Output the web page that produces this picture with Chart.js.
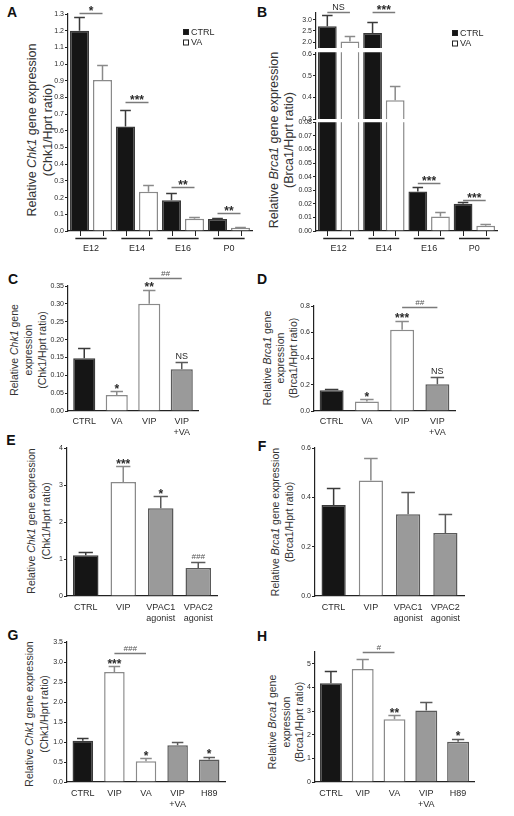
<!DOCTYPE html>
<html>
<head>
<meta charset="utf-8">
<script src="https://cdn.jsdelivr.net/npm/chart.js@4.4.1/dist/chart.umd.min.js"></script>
<style>
  body { margin: 0; background: #fff; }
  #fig { position: relative; width: 514px; height: 816px; overflow: hidden; background: #fff;
         font-family: "Liberation Sans", Arial, Helvetica, sans-serif; color: #222; }
  #fig canvas { position: absolute; }
  .pl { position: absolute; font-weight: bold; font-size: 14px; transform: translate(-50%, -50%); color: #111; }
  .yt { position: absolute; white-space: nowrap; text-align: center; color: #333;
        transform: translate(-50%, -50%) rotate(-90deg); }
</style>
</head>
<body>
<div id="fig">
  <div class="pl" style="left:12px;top:12px">A</div>
  <div class="pl" style="left:262px;top:12px">B</div>
  <div class="pl" style="left:13px;top:279px">C</div>
  <div class="pl" style="left:262px;top:279px">D</div>
  <div class="pl" style="left:11px;top:440px">E</div>
  <div class="pl" style="left:262px;top:446px">F</div>
  <div class="pl" style="left:13px;top:635px">G</div>
  <div class="pl" style="left:262px;top:636px">H</div>

  <div class="yt" style="left:40px;top:130px;font-size:12.5px;line-height:16px">Relative <i>Chk1</i> gene expression<br>(Chk1/Hprt ratio)</div>
  <div class="yt" style="left:282px;top:140px;font-size:12.5px;line-height:15px">Relative <i>Brca1</i> gene expression<br>(Brca1/Hprt ratio)</div>
  <div class="yt" style="left:28px;top:350px;font-size:10.5px;line-height:14px">Relative <i>Chk1</i> gene<br>expression<br>(Chk1/Hprt ratio)</div>
  <div class="yt" style="left:280px;top:358px;font-size:10.5px;line-height:13px">Relative <i>Brca1</i> gene<br>expression<br>(Brca1/Hprt ratio)</div>
  <div class="yt" style="left:39px;top:521px;font-size:10.5px;line-height:15px">Relative <i>Chk1</i> gene expression<br>(Chk1/Hprt ratio)</div>
  <div class="yt" style="left:282px;top:522px;font-size:10.5px;line-height:14px">Relative <i>Brca1</i> gene expression<br>(Brca1/Hprt ratio)</div>
  <div class="yt" style="left:37px;top:714px;font-size:10.5px;line-height:15px">Relative <i>Chk1</i> gene expression<br>(Chk1/Hprt ratio)</div>
  <div class="yt" style="left:286px;top:722px;font-size:10.5px;line-height:13.5px">Relative <i>Brca1</i> gene<br>expression<br>(Brca1/Hprt ratio)</div>
</div>

<script>
// ===== DATA =====
// A / B: developmental stages, CTRL vs VA
const stageLabels = ['E12', 'E14', 'E16', 'P0'];
const chk1StageCtrl = [1.2, 0.626, 0.184, 0.072];
const chk1StageCtrlErr = [0.08, 0.10, 0.045, 0.005];
const chk1StageVa = [0.904, 0.235, 0.074, 0.019];
const chk1StageVaErr = [0.09, 0.042, 0.007, 0.002];
const yTicksA = [0, 0.1, 0.2, 0.3, 0.4, 0.5, 0.6, 0.7, 0.8, 0.9, 1.0, 1.1, 1.2, 1.3];
const rangeA = [0, 1.3];

const brca1StageCtrl = [2.71, 2.41, 0.029, 0.020];
const brca1StageCtrlErr = [0.51, 0.47, 0.0032, 0.0012];
const brca1StageVa = [2.04, 0.387, 0.0107, 0.0039];
const brca1StageVaErr = [0.22, 0.065, 0.003, 0.0015];
const yTicksBTop = [2.0, 2.5, 3.0];
const rangeBTop = [1.75, 3.29];
const yTicksBMid = [0.3, 0.4, 0.5, 0.6];
const rangeBMid = [0.3, 0.61];
const yTicksBLow = [0, 0.01, 0.02, 0.03, 0.04, 0.05, 0.06, 0.07, 0.08];
const rangeBLow = [0, 0.08];

// C / D: VIP and VA treatments
const vipVaLabels = ['CTRL', 'VA', 'VIP', ['VIP', '+VA']];
const chk1VipVa = [0.148, 0.045, 0.30, 0.117];
const chk1VipVaErr = [0.028, 0.011, 0.04, 0.02];
const yTicksC = [0, 0.05, 0.10, 0.15, 0.20, 0.25, 0.30, 0.35];
const rangeC = [0, 0.35];
const brca1VipVa = [0.158, 0.072, 0.62, 0.203];
const brca1VipVaErr = [0.013, 0.016, 0.066, 0.053];
const yTicksD = [0, 0.2, 0.4, 0.6, 0.8];
const rangeD = [0, 0.8];

// E / F: VPAC agonists
const vpacLabels = ['CTRL', 'VIP', ['VPAC1', 'agonist'], ['VPAC2', 'agonist']];
const chk1Vpac = [1.1, 3.08, 2.37, 0.76];
const chk1VpacErr = [0.08, 0.43, 0.33, 0.15];
const yTicksE = [0, 1, 2, 3, 4];
const rangeE = [0, 4];
const brca1Vpac = [0.369, 0.468, 0.331, 0.255];
const brca1VpacErr = [0.069, 0.09, 0.089, 0.078];
const yTicksF = [0, 0.2, 0.4, 0.6];
const rangeF = [0, 0.6];

// G / H: H89
const h89Labels = ['CTRL', 'VIP', 'VA', ['VIP', '+VA'], 'H89'];
const chk1H89 = [1.03, 2.75, 0.52, 0.92, 0.56];
const chk1H89Err = [0.06, 0.15, 0.08, 0.08, 0.07];
const yTicksG = [0, 0.5, 1.0, 1.5, 2.0, 2.5, 3.0, 3.5];
const rangeG = [0, 3.5];
const brca1H89 = [4.18, 4.78, 2.65, 3.02, 1.7];
const brca1H89Err = [0.5, 0.42, 0.17, 0.35, 0.13];
const yTicksH = [0, 1, 2, 3, 4, 5];
const rangeH = [0, 5.5];

// significance marks: a/b = [dataset, bar], v = bracket height
const sigA = [
  { a: [0, 0], b: [1, 0], v: 1.308, t: '*' },
  { a: [0, 1], b: [1, 1], v: 0.77, t: '***' },
  { a: [0, 2], b: [1, 2], v: 0.261, t: '**' },
  { a: [0, 3], b: [1, 3], v: 0.108, t: '**' },
];
const sigBTop = [
  { a: [0, 0], b: [1, 0], v: 3.34, t: 'NS' },
  { a: [0, 1], b: [1, 1], v: 3.34, t: '***' },
];
const sigBLow = [
  { a: [0, 2], b: [1, 2], v: 0.0356, t: '***' },
  { a: [0, 3], b: [1, 3], v: 0.0229, t: '***' },
];
const sigC = [
  { a: [0, 1], t: '*' }, { a: [0, 2], t: '**' },
  { a: [0, 2], b: [0, 3], v: 0.372, t: '##' }, { a: [0, 3], t: 'NS' },
];
const sigD = [
  { a: [0, 1], t: '*' }, { a: [0, 2], t: '***' },
  { a: [0, 2], b: [0, 3], v: 0.79, t: '##' }, { a: [0, 3], t: 'NS' },
];
const sigE = [{ a: [0, 1], t: '***' }, { a: [0, 2], t: '*' }, { a: [0, 3], t: '###' }];
const sigG = [
  { a: [0, 1], t: '***' }, { a: [0, 1], b: [0, 2], v: 3.22, t: '###' },
  { a: [0, 2], t: '*' }, { a: [0, 4], t: '*' },
];
const sigH = [
  { a: [0, 1], b: [0, 2], v: 5.5, t: '#' }, { a: [0, 2], t: '**' }, { a: [0, 4], t: '*' },
];

// ===== STYLE =====
const FONT = '"Liberation Sans", Arial, Helvetica, sans-serif';
const COLORS = {
  ctrl: '#151515', ctrlEdge: '#3a3a3a',
  white: '#ffffff', whiteEdge: '#8a8a8a',
  grey: '#9a9a9a', greyEdge: '#5a5a5a',
  axis: '#222222', text: '#2a2a2a', sigLine: '#7a7a7a', hash: '#555555',
};

function styleFor(label) {
  const key = [].concat(label).join('');
  if (key === 'CTRL') return [COLORS.ctrl, COLORS.ctrlEdge];
  if (key === 'VA' || key === 'VIP') return [COLORS.white, COLORS.whiteEdge];
  return [COLORS.grey, COLORS.greyEdge];
}

// ===== PLUGINS =====
const errorBars = {
  id: 'errorBars',
  afterDatasetsDraw(chart) {
    const { ctx } = chart;
    const y = chart.scales.y;
    chart.data.datasets.forEach((ds, di) => {
      if (!ds.errors) return;
      chart.getDatasetMeta(di).data.forEach((bar, i) => {
        const v = ds.data[i];
        if (v < y.min || v > y.max) return;
        const y0 = y.getPixelForValue(v);
        const y1 = Math.round(y.getPixelForValue(v + ds.errors[i])) + 0.5;
        const half = bar.width * 0.28;
        const col = Array.isArray(ds.borderColor) ? ds.borderColor[i] : ds.borderColor;
        ctx.save();
        ctx.strokeStyle = col;
        ctx.lineWidth = 1.5;
        ctx.beginPath();
        ctx.moveTo(bar.x, y0); ctx.lineTo(bar.x, y1);
        ctx.moveTo(bar.x - half, y1); ctx.lineTo(bar.x + half, y1);
        ctx.stroke();
        ctx.restore();
      });
    });
  },
};

function drawSigText(ctx, text, x, anchorY) {
  ctx.textAlign = 'center';
  ctx.textBaseline = 'alphabetic';
  if (text[0] === '*') {
    ctx.font = 'bold 12px ' + FONT;
    ctx.fillStyle = COLORS.text;
    ctx.fillText(text, x, anchorY + 2.5);
  } else if (text[0] === '#') {
    ctx.font = 'italic 8px ' + FONT;
    ctx.fillStyle = COLORS.hash;
    ctx.fillText(text, x, anchorY - 2);
  } else {
    ctx.font = '9px ' + FONT;
    ctx.fillStyle = COLORS.text;
    ctx.fillText(text, x, anchorY - 2);
  }
}

const sigMarks = {
  id: 'sigMarks',
  afterDatasetsDraw(chart, args, opts) {
    const items = opts.items || [];
    const { ctx } = chart;
    const y = chart.scales.y;
    ctx.save();
    items.forEach((it) => {
      const barA = chart.getDatasetMeta(it.a[0]).data[it.a[1]];
      if (it.b) {
        const barB = chart.getDatasetMeta(it.b[0]).data[it.b[1]];
        const py = Math.round(y.getPixelForValue(it.v)) + 0.5;
        ctx.strokeStyle = COLORS.sigLine;
        ctx.lineWidth = 1.5;
        ctx.beginPath();
        ctx.moveTo(barA.x, py); ctx.lineTo(barB.x, py);
        ctx.stroke();
        drawSigText(ctx, it.t, (barA.x + barB.x) / 2, py - 1);
      } else {
        const ds = chart.data.datasets[it.a[0]];
        const top = ds.data[it.a[1]] + ds.errors[it.a[1]];
        drawSigText(ctx, it.t, barA.x, y.getPixelForValue(top) - 1);
      }
    });
    ctx.restore();
  },
};

const groupAxis = {
  id: 'groupAxis',
  afterDraw(chart, args, opts) {
    if (!opts.on) return;
    const { ctx, chartArea } = chart;
    const x = chart.scales.x;
    ctx.save();
    ctx.strokeStyle = COLORS.axis;
    ctx.lineWidth = 1;
    ctx.beginPath();
    chart.data.datasets.forEach((ds, di) => {
      chart.getDatasetMeta(di).data.forEach((bar) => {
        const bx = Math.round(bar.x) + 0.5;
        ctx.moveTo(bx, chartArea.bottom); ctx.lineTo(bx, chartArea.bottom + 5);
      });
    });
    ctx.stroke();
    ctx.lineWidth = 1.5;
    ctx.beginPath();
    const half = (x.width / x.ticks.length) * 0.34;
    x.ticks.forEach((t, i) => {
      const cx = x.getPixelForTick(i);
      ctx.moveTo(cx - half, chartArea.bottom + 7.5); ctx.lineTo(cx + half, chartArea.bottom + 7.5);
    });
    ctx.stroke();
    ctx.restore();
  },
};

const boxLegend = {
  id: 'boxLegend',
  afterDraw(chart, args, opts) {
    if (!opts.at) return;
    const { ctx } = chart;
    const ox = parseFloat(chart.canvas.style.left);
    const oy = parseFloat(chart.canvas.style.top);
    ctx.save();
    chart.data.datasets.forEach((ds, i) => {
      const lx = opts.at[0] - ox;
      const ly = opts.at[1] - oy + i * 10.5;
      ctx.fillStyle = ds.backgroundColor;
      ctx.fillRect(lx, ly, 6, 6);
      ctx.strokeStyle = COLORS.axis;
      ctx.lineWidth = 1;
      ctx.strokeRect(lx + 0.5, ly + 0.5, 5, 5);
      ctx.fillStyle = COLORS.text;
      ctx.font = '9px ' + FONT;
      ctx.textAlign = 'left';
      ctx.textBaseline = 'middle';
      ctx.fillText(ds.label, lx + 8, ly + 3.5);
    });
    ctx.restore();
  },
};

// ===== BUILDERS =====
function placeCanvas(box) {
  const w = box.r - box.l + box.yw + box.pr;
  const h = box.b - box.t + box.pt + box.pb + box.xh;
  const cv = document.createElement('canvas');
  cv.width = w;
  cv.height = h;
  cv.style.left = (box.l - box.yw) + 'px';
  cv.style.top = (box.t - box.pt) + 'px';
  cv.style.width = w + 'px';
  cv.style.height = h + 'px';
  document.getElementById('fig').appendChild(cv);
  return cv;
}

function yScale(box, ticks, range, digits) {
  return {
    min: range[0],
    max: range[1],
    afterBuildTicks: (s) => { s.ticks = ticks.map((v) => ({ value: v })); },
    afterFit: (s) => { s.width = box.yw; },
    ticks: { font: { size: 7, family: FONT }, color: COLORS.text, padding: 1,
             callback: (v) => Number(v).toFixed(digits) },
    grid: { drawOnChartArea: false, tickLength: 3, color: COLORS.axis, lineWidth: 1 },
    border: { color: COLORS.axis, width: 1.2 },
  };
}

function xScale(box) {
  return {
    display: box.xh > 0,
    offset: true,
    z: 1,
    afterFit: (s) => { s.height = box.xh; },
    grid: { display: false, drawTicks: false, tickLength: 0 },
    border: { color: COLORS.axis, width: 1.2 },
    ticks: { font: { size: 9, family: FONT }, color: COLORS.text, padding: box.xpad,
             maxRotation: 0, autoSkip: false },
  };
}

function makeChart(box, labels, datasets, yTicks, range, digits, extra) {
  const cv = placeCanvas(box);
  return new Chart(cv, {
    type: 'bar',
    data: { labels, datasets },
    options: {
      responsive: false,
      animation: false,
      events: [],
      layout: { padding: { top: box.pt, right: box.pr, bottom: box.pb, left: 0 } },
      scales: { x: xScale(box), y: yScale(box, yTicks, range, digits) },
      plugins: {
        legend: { display: false },
        tooltip: { enabled: false },
        sigMarks: { items: extra.sig || [] },
        groupAxis: { on: !!extra.groups },
        boxLegend: { at: extra.legend || null },
      },
    },
    plugins: [errorBars, sigMarks, groupAxis, boxLegend],
  });
}

function pairDatasets(ctrl, ctrlErr, va, vaErr) {
  const common = { borderWidth: 1.5, categoryPercentage: 1, barPercentage: 0.83 };
  return [
    { label: 'CTRL', data: ctrl, errors: ctrlErr, backgroundColor: COLORS.ctrl, borderColor: COLORS.ctrlEdge, ...common },
    { label: 'VA', data: va, errors: vaErr, backgroundColor: COLORS.white, borderColor: COLORS.whiteEdge, ...common },
  ];
}

function singleDataset(labels, values, errs, barPct) {
  const styles = labels.map(styleFor);
  return [{
    label: 'values', data: values, errors: errs,
    backgroundColor: styles.map((s) => s[0]),
    borderColor: styles.map((s) => s[1]),
    borderWidth: 1.5, categoryPercentage: 1, barPercentage: barPct,
  }];
}

// ===== PANELS =====
// A
makeChart({ l: 68, t: 14, r: 252, b: 231, yw: 26, pr: 6, pt: 14, pb: 0, xh: 30, xpad: 12 },
  stageLabels, pairDatasets(chk1StageCtrl, chk1StageCtrlErr, chk1StageVa, chk1StageVaErr),
  yTicksA, rangeA, 1, { sig: sigA, groups: true, legend: [183, 29] });

// B (broken axis: three stacked segments)
const boxB = { l: 316, r: 497, yw: 28, pr: 10 };
makeChart({ ...boxB, t: 13, b: 48, pt: 13, pb: 6, xh: 0 },
  stageLabels, pairDatasets(brca1StageCtrl, brca1StageCtrlErr, brca1StageVa, brca1StageVaErr),
  yTicksBTop, rangeBTop, 1, { sig: sigBTop, legend: [452, 30] });
makeChart({ ...boxB, t: 52, b: 119, pt: 5, pb: 6, xh: 0 },
  stageLabels, pairDatasets(brca1StageCtrl, brca1StageCtrlErr, brca1StageVa, brca1StageVaErr),
  yTicksBMid, rangeBMid, 1, {});
makeChart({ ...boxB, t: 122, b: 231, pt: 5, pb: 0, xh: 30, xpad: 12 },
  stageLabels, pairDatasets(brca1StageCtrl, brca1StageCtrlErr, brca1StageVa, brca1StageVaErr),
  yTicksBLow, rangeBLow, 2, { sig: sigBLow, groups: true });

// C
makeChart({ l: 68, t: 286, r: 198, b: 411, yw: 28, pr: 8, pt: 20, pb: 0, xh: 30, xpad: 5 },
  vipVaLabels, singleDataset(vipVaLabels, chk1VipVa, chk1VipVaErr, 0.68),
  yTicksC, rangeC, 2, { sig: sigC });

// D
makeChart({ l: 314, t: 306, r: 455, b: 411, yw: 28, pr: 8, pt: 20, pb: 0, xh: 30, xpad: 5 },
  vipVaLabels, singleDataset(vipVaLabels, brca1VipVa, brca1VipVaErr, 0.68),
  yTicksD, rangeD, 1, { sig: sigD });

// E
makeChart({ l: 67, t: 448, r: 217, b: 596, yw: 26, pr: 8, pt: 8, pb: 0, xh: 32, xpad: 6 },
  vpacLabels, singleDataset(vpacLabels, chk1Vpac, chk1VpacErr, 0.68),
  yTicksE, rangeE, 0, { sig: sigE });

// F
makeChart({ l: 315, t: 448, r: 464, b: 596, yw: 26, pr: 8, pt: 8, pb: 0, xh: 32, xpad: 6 },
  vpacLabels, singleDataset(vpacLabels, brca1Vpac, brca1VpacErr, 0.65),
  yTicksF, rangeF, 1, {});

// G
makeChart({ l: 67, t: 642, r: 225, b: 782, yw: 26, pr: 8, pt: 8, pb: 0, xh: 30, xpad: 6 },
  h89Labels, singleDataset(h89Labels, chk1H89, chk1H89Err, 0.65),
  yTicksG, rangeG, 1, { sig: sigG });

// H
makeChart({ l: 315, t: 652, r: 474, b: 782, yw: 26, pr: 8, pt: 16, pb: 0, xh: 30, xpad: 6 },
  h89Labels, singleDataset(h89Labels, brca1H89, brca1H89Err, 0.69),
  yTicksH, rangeH, 0, { sig: sigH });
</script>
</body>
</html>
